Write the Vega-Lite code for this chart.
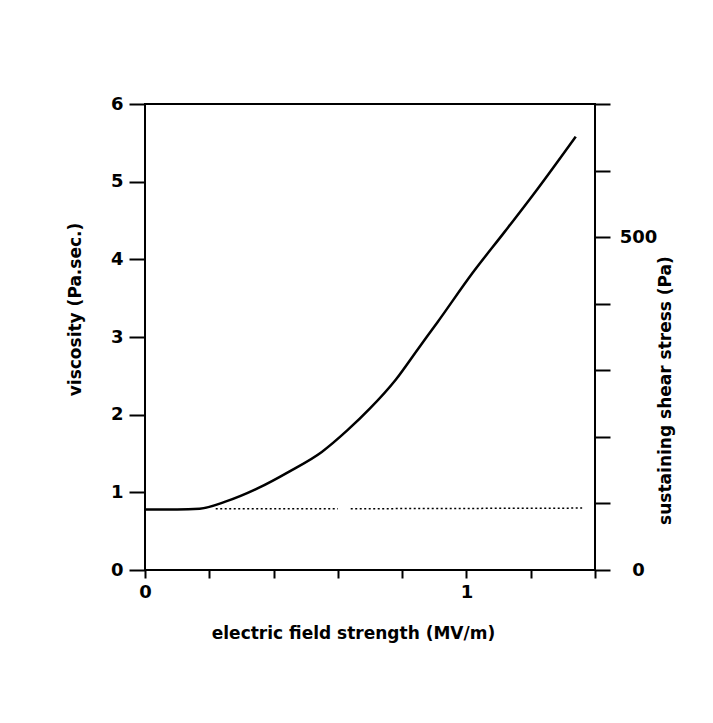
{
  "$schema": "https://vega.github.io/schema/vega-lite/v6.json",
  "width": 450,
  "height": 466,
  "autosize": {"type": "none"},
  "padding": {"left": 145, "top": 104, "right": 118, "bottom": 153},
  "background": "white",
  "config": {
    "view": {"stroke": "black", "strokeWidth": 2},
    "axis": {
      "grid": false,
      "domain": false,
      "labelFlush": false,
      "tickColor": "black",
      "tickWidth": 2,
      "labelColor": "black",
      "titleColor": "black",
      "labelFont": "DejaVu Sans",
      "titleFont": "DejaVu Sans",
      "labelFontWeight": "bold",
      "titleFontWeight": "bold",
      "labelFontSize": 18,
      "titleFontSize": 17
    }
  },
  "datasets": {
    "visc": [
      {"E": 0.0, "viscosity": 0.78},
      {"E": 0.1, "viscosity": 0.78},
      {"E": 0.17, "viscosity": 0.79},
      {"E": 0.25, "viscosity": 0.88},
      {"E": 0.35, "viscosity": 1.05},
      {"E": 0.45, "viscosity": 1.27},
      {"E": 0.55, "viscosity": 1.52},
      {"E": 0.63, "viscosity": 1.8},
      {"E": 0.7, "viscosity": 2.08},
      {"E": 0.78, "viscosity": 2.45},
      {"E": 0.85, "viscosity": 2.85},
      {"E": 0.91, "viscosity": 3.19},
      {"E": 1.02, "viscosity": 3.83},
      {"E": 1.12, "viscosity": 4.36},
      {"E": 1.22, "viscosity": 4.9},
      {"E": 1.34, "viscosity": 5.58}
    ],
    "stress": [
      {"E": 0.22, "stress": 92, "seg": "a"},
      {"E": 0.6, "stress": 92, "seg": "a"},
      {"E": 0.64, "stress": 92, "seg": "b"},
      {"E": 1.36, "stress": 93, "seg": "b"}
    ]
  },
  "layer": [
    {
      "data": {"name": "visc"},
      "mark": {"type": "line", "color": "black", "strokeWidth": 2.5, "interpolate": "monotone"},
      "encoding": {
        "x": {
          "field": "E", "type": "quantitative",
          "scale": {"domain": [0, 1.4], "nice": false},
          "axis": {
            "values": [0, 0.2, 0.4, 0.6, 0.8, 1, 1.2, 1.4],
            "format": "~g",
            "labelExpr": "datum.value == 0 || datum.value == 1 ? datum.label : ''",
            "tickSize": 8,
            "labelPadding": 5,
            "title": "electric field strength (MV/m)",
            "titleX": 208,
            "titleY": 63,
            "titleBaseline": "middle"
          }
        },
        "y": {
          "field": "viscosity", "type": "quantitative",
          "scale": {"domain": [0, 6], "nice": false},
          "axis": {
            "orient": "left",
            "values": [0, 1, 2, 3, 4, 5, 6],
            "tickSize": 16,
            "labelPadding": 6,
            "title": "viscosity (Pa.sec.)",
            "titleAngle": 270,
            "titleX": -70,
            "titleY": 205,
            "titleAlign": "center",
            "titleBaseline": "middle"
          }
        }
      }
    },
    {
      "data": {"name": "stress"},
      "mark": {"type": "line", "color": "black", "strokeWidth": 1.5, "strokeDash": [2, 2.5]},
      "encoding": {
        "x": {"field": "E", "type": "quantitative"},
        "y": {
          "field": "stress", "type": "quantitative",
          "scale": {"domain": [0, 700], "nice": false},
          "axis": {
            "orient": "right",
            "values": [0, 100, 200, 300, 400, 500, 600, 700],
            "labelExpr": "datum.value == 0 || datum.value == 500 ? datum.label : ''",
            "tickSize": 15,
            "labelAlign": "center",
            "labelPadding": 28,
            "title": "sustaining shear stress  (Pa)",
            "titleAngle": 270,
            "titleX": 70,
            "titleY": 286,
            "titleAlign": "center",
            "titleBaseline": "middle"
          }
        },
        "detail": {"field": "seg"}
      }
    }
  ],
  "resolve": {"scale": {"y": "independent"}}
}
